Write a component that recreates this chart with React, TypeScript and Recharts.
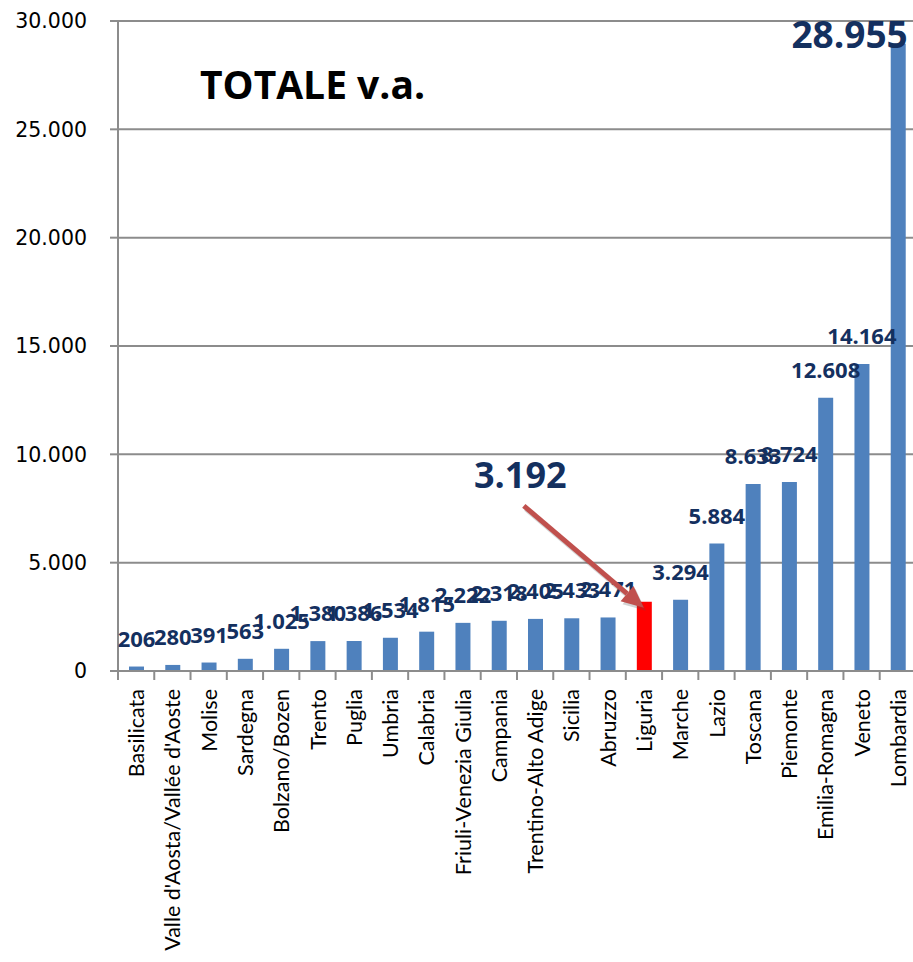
import React from "react";
import {
  BarChart,
  Bar,
  XAxis,
  YAxis,
  CartesianGrid,
  Cell,
  LabelList,
} from "recharts";

const regions = [
  "Basilicata",
  "Valle d'Aosta/Vallée d'Aoste",
  "Molise",
  "Sardegna",
  "Bolzano/Bozen",
  "Trento",
  "Puglia",
  "Umbria",
  "Calabria",
  "Friuli-Venezia Giulia",
  "Campania",
  "Trentino-Alto Adige",
  "Sicilia",
  "Abruzzo",
  "Liguria",
  "Marche",
  "Lazio",
  "Toscana",
  "Piemonte",
  "Emilia-Romagna",
  "Veneto",
  "Lombardia",
];

const totals = [
  206, 280, 391, 563, 1025, 1380, 1386, 1534, 1815, 2222, 2318, 2405, 2433,
  2471, 3192, 3294, 5884, 8633, 8724, 12608, 14164, 28955,
];

const yTicks = [0, 5000, 10000, 15000, 20000, 25000, 30000];

const highlight = "Liguria";
const biggest = "Lombardia";

const data = regions.map((name, i) => ({ name, value: totals[i] }));

const BLUE = "#4F81BD";
const NAVY = "#14305F";
const GRID = "#8C8C8C";
const BAND = 798.6 / regions.length;

const fmt = (v: number) => String(v).replace(/\B(?=(\d{3})+(?!\d))/g, ".");

const CategoryTick = (props: any) => {
  const { x, y, payload, index } = props;
  return (
    <g>
      <line x1={x - BAND / 2} y1={y - 8} x2={x - BAND / 2} y2={y + 1} stroke={GRID} strokeWidth={2} />
      {index === regions.length - 1 && (
        <line x1={x + BAND / 2} y1={y - 8} x2={x + BAND / 2} y2={y + 1} stroke={GRID} strokeWidth={2} />
      )}
      <text
        x={0}
        y={0}
        transform={`translate(${x},${y + 10}) rotate(-90)`}
        textAnchor="end"
        dominantBaseline="central"
        fontFamily="Lato"
        fontSize={21.5}
        fill="#000"
      >
        {payload.value}
      </text>
    </g>
  );
};

const ValueLabel = (props: any) => {
  const { x, y, width, value, index } = props;
  const name = regions[index];
  const cx = x + width / 2;
  if (name === highlight) {
    const tipX = x + 7;
    const tipY = y + 6;
    const sx = tipX - 120;
    const sy = tipY - 102;
    const ang = Math.atan2(tipY - sy, tipX - sx);
    const hl = 22;
    const hw = 10;
    const bx = tipX - hl * Math.cos(ang);
    const by = tipY - hl * Math.sin(ang);
    const px = -Math.sin(ang);
    const py = Math.cos(ang);
    const head = `${tipX},${tipY} ${bx + px * hw},${by + py * hw} ${bx - px * hw},${by - py * hw}`;
    return (
      <g>
        <g transform="translate(2,3)" opacity={0.25}>
          <line x1={sx} y1={sy} x2={bx} y2={by} stroke="#555" strokeWidth={5} />
          <polygon points={head} fill="#555" />
        </g>
        <line x1={sx} y1={sy} x2={bx} y2={by} stroke="#C0504D" strokeWidth={5} />
        <polygon points={head} fill="#C0504D" />
        <text
          x={cx - 124}
          y={y - 114}
          textAnchor="middle"
          fontFamily="Open Sans"
          fontWeight="bold"
          fontSize={36}
          fill={NAVY}
        >
          {fmt(value)}
        </text>
      </g>
    );
  }
  if (name === biggest) {
    return (
      <text
        x={x + width + 2}
        y={48}
        textAnchor="end"
        fontFamily="Open Sans"
        fontWeight="bold"
        fontSize={37}
        fill={NAVY}
      >
        {fmt(value)}
      </text>
    );
  }
  return (
    <text
      x={cx}
      y={y - 20}
      textAnchor="middle"
      fontFamily="Open Sans"
      fontWeight="bold"
      fontSize={22}
      fill={NAVY}
    >
      {fmt(value)}
    </text>
  );
};

const App = () => {
  return (
    <div
      style={{
        position: "absolute",
        left: 0,
        top: 0,
        width: 913,
        height: 962,
        overflow: "hidden",
        background: "#fff",
      }}
    >
      <BarChart
        width={920}
        height={962}
        data={data}
        margin={{ top: 21, right: 4, bottom: 0, left: 0 }}
        barCategoryGap={0}
      >
        <CartesianGrid vertical={false} stroke={GRID} strokeWidth={2} />
        <YAxis
          width={118}
          domain={[0, 30000]}
          ticks={yTicks}
          tickFormatter={fmt}
          tickSize={8}
          tickMargin={23}
          stroke={GRID}
          strokeWidth={2}
          tick={{ fontFamily: "DejaVu Sans", fontSize: 20.5, fill: "#000" }}
        />
        <XAxis
          dataKey="name"
          interval={0}
          height={291}
          tickLine={false}
          stroke={GRID}
          strokeWidth={2}
          tick={<CategoryTick />}
        />
        <Bar dataKey="value" barSize={15} isAnimationActive={false}>
          {data.map((d) => (
            <Cell key={d.name} fill={d.name === highlight ? "#FF0000" : BLUE} />
          ))}
          <LabelList dataKey="value" content={<ValueLabel />} />
        </Bar>
        <text
          x={200}
          y={99}
          fontFamily="Open Sans"
          fontWeight="bold"
          fontSize={39}
          fill="#000"
        >
          TOTALE v.a.
        </text>
      </BarChart>
    </div>
  );
};

export default App;
